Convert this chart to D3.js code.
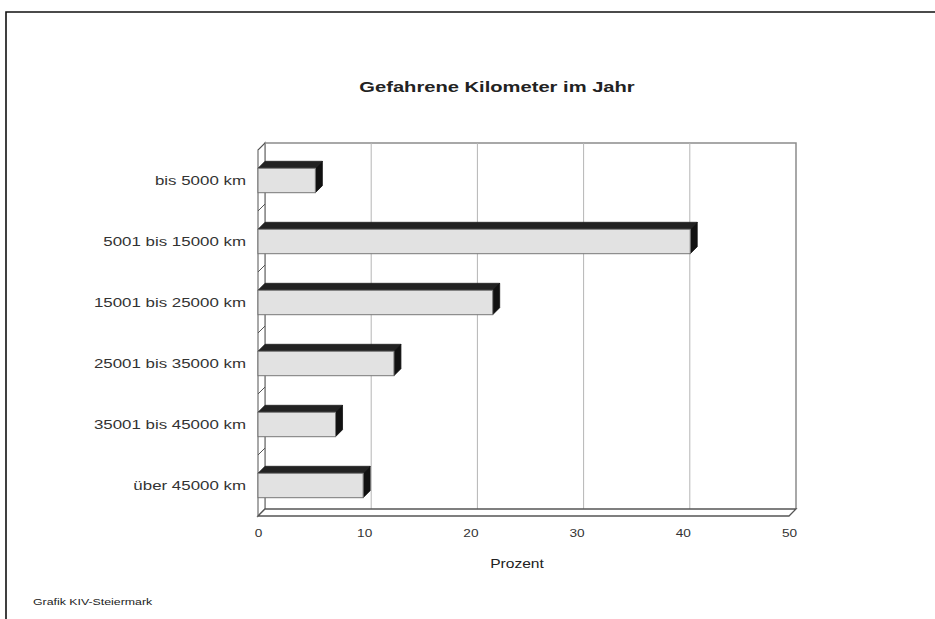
<!DOCTYPE html>
<html>
<head>
<meta charset="utf-8">
<script src="https://cdn.jsdelivr.net/npm/d3@7"></script>
<style>
  body { margin: 0; background: #fff; }
  text { font-family: "Liberation Sans", Arial, sans-serif; fill: #222; }
</style>
</head>
<body>
<svg id="chart"></svg>
<script>
// data
const categories = ["bis 5000 km", "5001 bis 15000 km", "15001 bis 25000 km",
                    "25001 bis 35000 km", "35001 bis 45000 km", "über 45000 km"];
const percent = [5.4, 40.7, 22.1, 12.8, 7.3, 9.9];
const xTicks = [0, 10, 20, 30, 40, 50];
const title = "Gefahrene Kilometer im Jahr";
const xLabel = "Prozent";
const source = "Grafik KIV-Steiermark";

const W = 935, H = 619;
const sx = 1.3;          // the picture is stretched sideways
const depth = 7;         // 3d offset of the walls and bars
const plot = { left: 258, right: 789, top: 150, bottom: 516 };

const svg = d3.select("#chart").attr("width", W).attr("height", H);

// outer frame (only top and left edges are visible)
svg.append("path")
    .attr("d", `M6,${H} L6,12 L${W},12`)
    .attr("fill", "none").attr("stroke", "#111").attr("stroke-width", 1.6);

const x = d3.scaleLinear().domain([0, 50]).range([plot.left, plot.right]);
const y = d3.scaleBand().domain(categories)
    .range([plot.top, plot.bottom]).paddingInner(0.6).paddingOuter(0.3);

const wallCol = "#8c8c8c";
const g = svg.append("g");

// back wall
g.append("path")
    .attr("d", `M${plot.left + depth},${plot.bottom - depth} L${plot.left + depth},${plot.top - depth}
                L${plot.right + depth},${plot.top - depth} L${plot.right + depth},${plot.bottom - depth}`)
    .attr("fill", "none").attr("stroke", wallCol).attr("stroke-width", 1.5);

// gridlines on back wall and floor
xTicks.slice(1, -1).forEach(t => {
    g.append("line")
        .attr("x1", x(t) + depth).attr("x2", x(t) + depth)
        .attr("y1", plot.top - depth).attr("y2", plot.bottom - depth)
        .attr("stroke", "#b5b5b5").attr("stroke-width", 1);
});
xTicks.forEach(t => {
    g.append("line")
        .attr("x1", x(t) + depth).attr("y1", plot.bottom - depth)
        .attr("x2", x(t)).attr("y2", plot.bottom)
        .attr("stroke", "#666").attr("stroke-width", 1);
});

// left wall
g.append("path")
    .attr("d", `M${plot.left},${plot.bottom} L${plot.left},${plot.top} L${plot.left + depth},${plot.top - depth}
                L${plot.left + depth},${plot.bottom - depth} Z`)
    .attr("fill", "#fff").attr("stroke", wallCol).attr("stroke-width", 1.5);

// floor
g.append("path")
    .attr("d", `M${plot.left},${plot.bottom} L${plot.right},${plot.bottom} L${plot.right + depth},${plot.bottom - depth}
                L${plot.left + depth},${plot.bottom - depth} Z`)
    .attr("fill", "#fff").attr("stroke", "#555").attr("stroke-width", 1.3);

// category ticks on the left wall
y.domain().forEach((c, i) => {
    const yy = plot.top + i * y.step();
    g.append("line")
        .attr("x1", plot.left).attr("y1", yy)
        .attr("x2", plot.left + depth).attr("y2", yy - depth)
        .attr("stroke", "#555");
});

// bars
const bars = g.selectAll(".bar").data(categories).join("g").attr("class", "bar");
const bw = y.bandwidth();

bars.append("path")   // top face
    .attr("d", (d, i) => {
        const y0 = y(d), x0 = x(0), x1 = x(percent[i]);
        return `M${x0},${y0} L${x1},${y0} L${x1 + depth},${y0 - depth} L${x0 + depth},${y0 - depth} Z`;
    })
    .attr("fill", "#222").attr("stroke", "#222").attr("stroke-width", 0.8);

bars.append("path")   // side face
    .attr("d", (d, i) => {
        const y0 = y(d), x1 = x(percent[i]);
        return `M${x1},${y0} L${x1 + depth},${y0 - depth} L${x1 + depth},${y0 + bw - depth} L${x1},${y0 + bw} Z`;
    })
    .attr("fill", "#111").attr("stroke", "#111").attr("stroke-width", 0.8);

bars.append("rect")   // front face
    .attr("x", x(0))
    .attr("y", d => y(d))
    .attr("width", (d, i) => x(percent[i]) - x(0))
    .attr("height", bw)
    .attr("fill", "#e2e2e2").attr("stroke", "#777").attr("stroke-width", 1);

// axes
const xAxisG = svg.append("g")
    .attr("transform", `translate(0,${plot.bottom})`)
    .call(d3.axisBottom(x).tickValues(xTicks).tickSize(0).tickPadding(14));
xAxisG.select(".domain").remove();
xAxisG.selectAll(".tick text")
    .attr("font-size", 10.5)
    .attr("x", 0)
    .attr("transform", `scale(${sx},1)`)
    .style("font-family", "Liberation Sans, Arial, sans-serif").style("fill", "#333");

const yAxisG = svg.append("g")
    .attr("transform", `translate(${plot.left},0)`)
    .call(d3.axisLeft(y).tickSize(0).tickPadding(0));
yAxisG.select(".domain").remove();
yAxisG.selectAll("text")
    .attr("x", 0)
    .attr("font-size", 13)
    .attr("transform", `translate(-12,0) scale(${sx},1)`)
    .style("font-family", "Liberation Sans, Arial, sans-serif").style("fill", "#333");

// titles
function stretchedText(txt, tx, ty, size, anchor, weight) {
    svg.append("text")
        .attr("transform", `translate(${tx},${ty}) scale(${sx},1)`)
        .attr("text-anchor", anchor)
        .attr("font-size", size)
        .attr("font-weight", weight || "normal")
        .text(txt);
}
stretchedText(title, 497, 92, 15.5, "middle", "bold");
stretchedText(xLabel, 517, 568, 12, "middle");
stretchedText(source, 33, 605, 9.5, "start");
</script>
</body>
</html>
